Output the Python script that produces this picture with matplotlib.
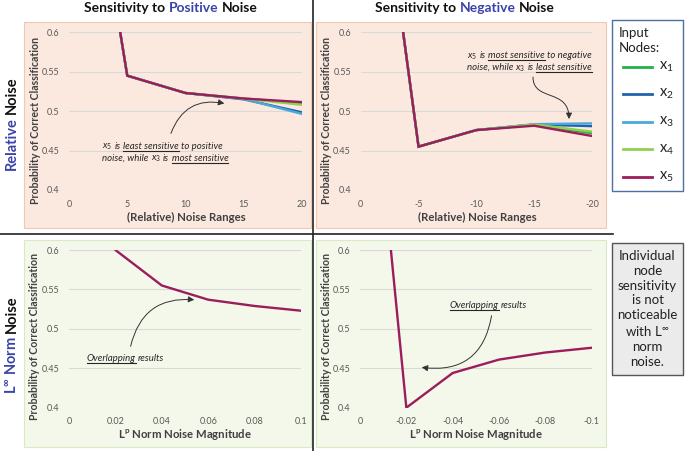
import matplotlib
matplotlib.use("Agg")
import matplotlib.pyplot as plt
from matplotlib.patches import Rectangle, FancyArrowPatch
from matplotlib.lines import Line2D
from matplotlib.path import Path

plt.rcParams['font.family'] = ['Lato', 'DejaVu Sans']
plt.rcParams['mathtext.fontset'] = 'custom'
plt.rcParams['mathtext.rm'] = 'Lato'
plt.rcParams['mathtext.it'] = 'Lato:style=italic'
plt.rcParams['mathtext.bf'] = 'Lato:bold'

# ---------------- data ----------------
rel_pos_x = [0, 5, 10, 15, 20]
pos_x1 = [1.0, 0.545, 0.523, 0.516, 0.510]
pos_x2 = [1.0, 0.545, 0.523, 0.515, 0.4985]
pos_x3 = [1.0, 0.545, 0.523, 0.5155, 0.4965]
pos_x4 = [1.0, 0.545, 0.523, 0.516, 0.508]
pos_x5 = [1.0, 0.545, 0.523, 0.516, 0.5115]

rel_neg_x = [0, -5, -10, -15, -20]
neg_x1 = [1.0, 0.455, 0.476, 0.483, 0.472]
neg_x2 = [1.0, 0.455, 0.476, 0.483, 0.481]
neg_x3 = [1.0, 0.455, 0.476, 0.4835, 0.4845]
neg_x4 = [1.0, 0.455, 0.476, 0.483, 0.474]
neg_x5 = [1.0, 0.455, 0.476, 0.4815, 0.4685]

lp_pos_x = [0, 0.02, 0.04, 0.06, 0.08, 0.1]
lp_pos_y = [1.0, 0.600, 0.555, 0.537, 0.529, 0.523]
lp_neg_x = [0, -0.02, -0.04, -0.06, -0.08, -0.1]
lp_neg_y = [1.0, 0.400, 0.444, 0.461, 0.470, 0.476]

node_labels = ['x1', 'x2', 'x3', 'x4', 'x5']
node_colors = ['#22b24c', '#1f63ae', '#4ca8da', '#8fd14f', '#9c1c5c']

y_ticks = [0.4, 0.45, 0.5, 0.55, 0.6]
y_ticklabels = ['0.4', '0.45', '0.5', '0.55', '0.6']
rel_pos_ticklabels = ['0', '5', '10', '15', '20']
rel_neg_ticklabels = ['0', '-5', '-10', '-15', '-20']
lp_pos_ticklabels = ['0', '0.02', '0.04', '0.06', '0.08', '0.1']
lp_neg_ticklabels = ['0', '-0.02', '-0.04', '-0.06', '-0.08', '-0.1']

W, H = 685, 451
fig = plt.figure(figsize=(W / 100, H / 100), dpi=100)
renderer = fig.canvas.get_renderer()

BLUE = '#3a44a8'
DARK = '#404040'
TICK = '#595959'


def fx(x):
    return x / W


def fy(y):
    return 1 - y / H


def rect(x0, y0, x1, y1, fc, ec, lw=0.8, z=-5):
    fig.patches.append(Rectangle((fx(x0), fy(y1)), fx(x1) - fx(x0), fy(y0) - fy(y1),
                                 transform=fig.transFigure, facecolor=fc, edgecolor=ec,
                                 lw=lw, zorder=z))


def hline(x0, x1, y, color='#222222', lw=1.2):
    fig.add_artist(Line2D([fx(x0), fx(x1)], [fy(y), fy(y)], transform=fig.transFigure,
                          color=color, lw=lw))


def vline(x, y0, y1, color='#222222', lw=1.2):
    fig.add_artist(Line2D([fx(x), fx(x)], [fy(y0), fy(y1)], transform=fig.transFigure,
                          color=color, lw=lw))


def space_width(size, style='normal', weight='normal'):
    sp = fig.text(0, 0, 'a a', fontsize=size, style=style, weight=weight)
    sp2 = fig.text(0, 0, 'aa', fontsize=size, style=style, weight=weight)
    space = sp.get_window_extent(renderer).width - sp2.get_window_extent(renderer).width
    sp.remove(); sp2.remove()
    return space


def rich_line(x, y, pieces, size, ha='left', style='normal', weight='normal', color='#262626'):
    """pieces: list of (text, underline, space_before, color_or_None)"""
    space = space_width(size, style, weight)
    arts = []
    total = 0
    for txt, ul, spc, col in pieces:
        t = fig.text(0, 0, txt, fontsize=size, style=style, weight=weight,
                     color=col or color, va='baseline', ha='left')
        w = t.get_window_extent(renderer).width
        if spc:
            total += space
        arts.append((t, total, w, ul, col or color))
        total += w
    start = x if ha == 'left' else (x - total if ha == 'right' else x - total / 2)
    for t, off, w, ul, col in arts:
        t.set_position((fx(start + off), fy(y)))
        if ul:
            fig.add_artist(Line2D([fx(start + off), fx(start + off + w)],
                                  [fy(y + 2.2), fy(y + 2.2)], transform=fig.transFigure,
                                  color=col, lw=0.8))


def rich_vert(x, yc, pieces, size, weight='bold'):
    """vertical text rotated 90, reading bottom to top, centered at yc"""
    space = space_width(size, 'normal', weight)
    arts = []
    total = 0
    for i, (txt, col) in enumerate(pieces):
        if i > 0:
            total += space
        t = fig.text(fx(x), 0, txt, fontsize=size, weight=weight, color=col,
                     rotation=90, ha='center', va='center', rotation_mode='anchor')
        h = t.get_window_extent(renderer).height
        arts.append((t, total, h))
        total += h
    start = yc + total / 2
    for t, off, h in arts:
        t.set_position((fx(x), fy(start - off - h / 2)))


# ---------------- panel backgrounds ----------------
rect(24, 22, 311, 228, '#fbe9df', '#f4c8b0')
rect(316, 22, 606, 228, '#fbe9df', '#f4c8b0')
rect(24, 240, 311, 447, '#f3f8ea', '#d7eac4')
rect(316, 240, 606, 447, '#f3f8ea', '#d7eac4')

# divider lines
hline(0, 613, 234)
vline(313, 0, 451)


def make_axes(x0, x1, y0, y1):
    ax = fig.add_axes([fx(x0), fy(y1), fx(x1) - fx(x0), fy(y0) - fy(y1)])
    ax.set_facecolor('none')
    for s in ax.spines.values():
        s.set_visible(False)
    ax.set_ylim(0.4, 0.6)
    ax.set_yticks(y_ticks)
    ax.set_yticklabels(y_ticklabels)
    ax.grid(axis='y', color='#d9d9d9', lw=0.8)
    ax.set_axisbelow(True)
    ax.tick_params(length=0, labelsize=6.5, labelcolor=TICK, pad=7)
    return ax


# top-left
ax1 = make_axes(69, 302, 32.3, 190)
for yv, c in zip([pos_x1, pos_x2, pos_x3, pos_x4, pos_x5], node_colors):
    ax1.plot(rel_pos_x, yv, color=c, lw=1.7, solid_joinstyle='miter')
ax1.set_xlim(0, 20)
ax1.set_xticks(rel_pos_x)
ax1.set_xticklabels(rel_pos_ticklabels)

# top-right
ax2 = make_axes(360.7, 592, 32.3, 190)
for yv, c in zip([neg_x1, neg_x2, neg_x3, neg_x4, neg_x5], node_colors):
    ax2.plot(rel_neg_x, yv, color=c, lw=1.7, solid_joinstyle='miter')
ax2.set_xlim(0, -20)
ax2.set_xticks(rel_neg_x)
ax2.set_xticklabels(rel_neg_ticklabels)

# bottom-left
ax3 = make_axes(69, 301, 250, 407.7)
ax3.plot(lp_pos_x, lp_pos_y, color=node_colors[4], lw=1.7, solid_joinstyle='miter')
ax3.set_xlim(0, 0.1)
ax3.set_xticks(lp_pos_x)
ax3.set_xticklabels(lp_pos_ticklabels)

# bottom-right
ax4 = make_axes(360, 591.7, 250, 407.7)
ax4.plot(lp_neg_x, lp_neg_y, color=node_colors[4], lw=1.7, solid_joinstyle='miter')
ax4.set_xlim(0, -0.1)
ax4.set_xticks(lp_neg_x)
ax4.set_xticklabels(lp_neg_ticklabels)

# axis titles
ylab = 'Probability of Correct Classification'
for xx, yy in [(36, 120), (327, 120), (35, 337), (326, 337)]:
    fig.text(fx(xx), fy(yy), ylab, rotation=90, ha='center', va='center',
             fontsize=7.6, weight='bold', color=DARK)
fig.text(fx(186), fy(217), '(Relative) Noise Ranges', ha='center', va='center',
         fontsize=8.2, weight='bold', color=DARK)
fig.text(fx(477), fy(217), '(Relative) Noise Ranges', ha='center', va='center',
         fontsize=8.2, weight='bold', color=DARK)
fig.text(fx(185), fy(434), r'L$^{\mathbf{p}}$ Norm Noise Magnitude', ha='center', va='center',
         fontsize=8.2, weight='bold', color=DARK)
fig.text(fx(476), fy(434), r'L$^{\mathbf{p}}$ Norm Noise Magnitude', ha='center', va='center',
         fontsize=8.2, weight='bold', color=DARK)

# column titles
rich_line(171, 12, [('Sensitivity to', False, False, None), ('Positive', False, True, BLUE),
                    ('Noise', False, True, None)], 10, ha='center', weight='bold', color='#111111')
rich_line(465, 12, [('Sensitivity to', False, False, None), ('Negative', False, True, BLUE),
                    ('Noise', False, True, None)], 10, ha='center', weight='bold', color='#111111')

# row titles
rich_vert(12, 123, [('Relative', BLUE), ('Noise', '#111111')], 10.5)
rich_vert(12, 345, [(r'L$^{\mathbf{\infty}}$ Norm', BLUE), ('Noise', '#111111')], 10.5)

# annotations
AS = 6.9
rich_line(102, 149, [(r'$x_5$', False, False, None), ('is', False, True, None),
                     ('least sensitive', True, True, None),
                     ('to positive', False, True, None)], AS, style='italic')
rich_line(102, 161, [('noise, while', False, False, None), (r'$x_3$', False, True, None),
                     ('is', False, True, None),
                     ('most sensitive', True, True, None)], AS, style='italic')
rich_line(592, 58, [(r'$x_5$', False, False, None), ('is', False, True, None),
                    ('most sensitive', True, True, None),
                    ('to negative', False, True, None)], AS, ha='right', style='italic')
rich_line(592, 70, [('noise, while', False, False, None), (r'$x_3$', False, True, None),
                    ('is', False, True, None),
                    ('least sensitive', True, True, None)], AS, ha='right', style='italic')
rich_line(87, 361, [('Overlapping', True, False, None), ('results', False, True, None)],
          AS, style='italic')
rich_line(450, 308, [('Overlapping', True, False, None), ('results', False, True, None)],
          AS, style='italic')

ARROWSTYLE = '-|>,head_length=3.5,head_width=1.8'


def arrow(p0, p1, rad):
    a = FancyArrowPatch((fx(p0[0]), fy(p0[1])), (fx(p1[0]), fy(p1[1])),
                        transform=fig.transFigure, connectionstyle=f'arc3,rad={rad}',
                        arrowstyle=ARROWSTYLE, color='#333333',
                        lw=0.7, mutation_scale=1)
    fig.add_artist(a)


def arrow_path(pts):
    verts = [(fx(px), fy(py)) for px, py in pts]
    p = Path(verts, [Path.MOVETO, Path.CURVE4, Path.CURVE4, Path.CURVE4])
    a = FancyArrowPatch(path=p, transform=fig.transFigure, arrowstyle=ARROWSTYLE,
                        color='#333333', lw=0.7, mutation_scale=1)
    fig.add_artist(a)


arrow((170, 136), (227, 104), -0.45)
arrow_path([(533, 77), (533, 102), (569, 88), (569, 119)])
arrow((130, 349), (197, 300), -0.45)
arrow((492, 313), (419, 367), -0.5)

# legend box
rect(612, 20, 683, 191, 'white', '#4d6fa6', lw=1.0, z=1)
fig.text(fx(619), fy(37), 'Input', fontsize=9.5, color='#222222', va='baseline')
fig.text(fx(619), fy(51.5), 'Nodes:', fontsize=9.5, color='#222222', va='baseline')
leg_y = [66.7, 94, 121.7, 149.3, 177.3]
for yy, c, lab in zip(leg_y, node_colors, node_labels):
    fig.add_artist(Line2D([fx(623), fx(651.5)], [fy(yy), fy(yy)], transform=fig.transFigure,
                          color=c, lw=2.0, zorder=2))
    fig.text(fx(659), fy(yy), r'$\mathrm{x}_{%s}$' % lab[1], fontsize=10.5, color='#222222',
             va='center', zorder=3)

# note box
rect(612, 243, 683, 375, '#ebebeb', '#555555', lw=1.0, z=1)
fig.text(fx(647.5), fy(309), 'Individual\nnode\nsensitivity\nis not\nnoticeable\n'
         r'with L$^{\infty}$' '\nnorm\nnoise.', ha='center', va='center', fontsize=9.5,
         color='#222222', linespacing=1.28, zorder=3)

fig.savefig('out.png', dpi=100)
